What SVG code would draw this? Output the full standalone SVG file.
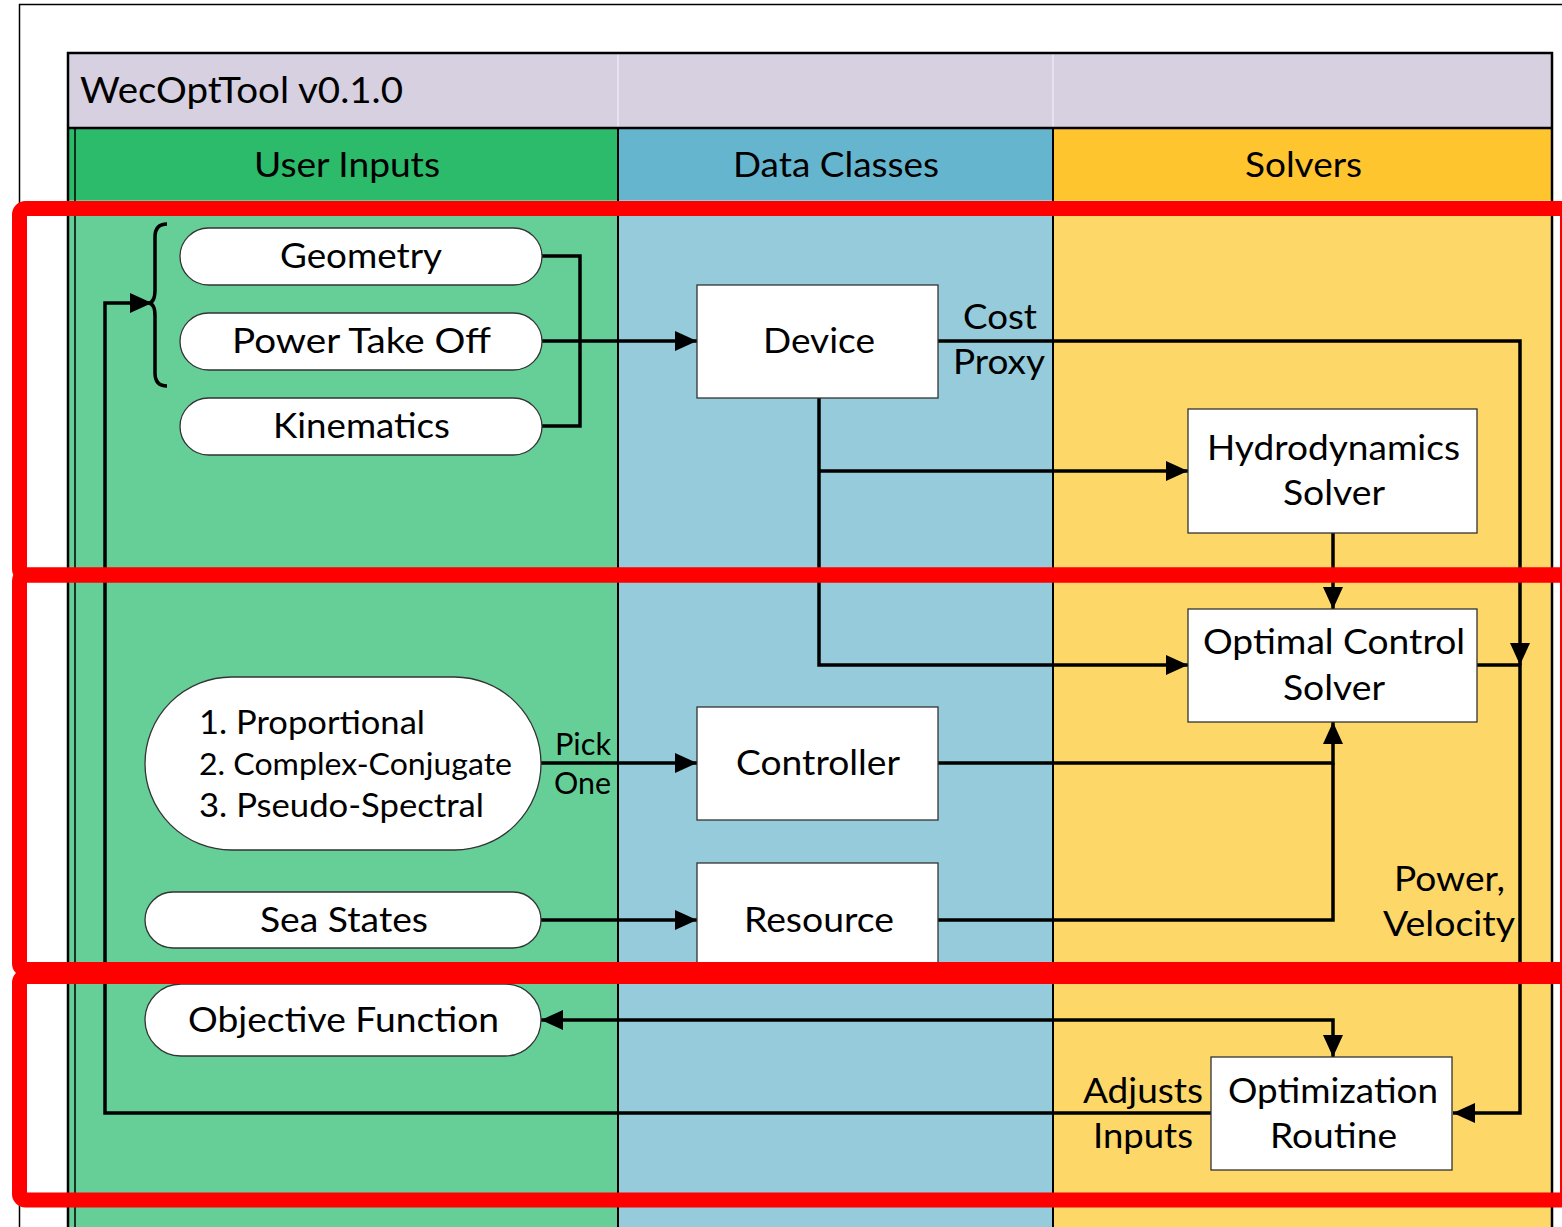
<svg xmlns="http://www.w3.org/2000/svg" width="1562" height="1227" viewBox="0 0 1562 1227">
<defs>
<style>
.t{font-family:Lato,"Open Sans","Liberation Sans",sans-serif;fill:#000;text-anchor:middle}
.pill{fill:#fff;stroke:#333;stroke-width:1.3}
.box{fill:#fff;stroke:#333;stroke-width:1.3}
.c{fill:none;stroke:#000;stroke-width:3.5}
.red{fill:none;stroke:#FF0000;stroke-width:15}
</style>
<marker id="ah" markerUnits="userSpaceOnUse" markerWidth="24" markerHeight="22" refX="22" refY="11" orient="auto-start-reverse" viewBox="0 0 24 22">
<path d="M0,1 L22,11 L0,21 z" fill="#000"/>
</marker>
</defs>
<rect x="0" y="0" width="1562" height="1227" fill="#fff"/>
<rect x="19.5" y="4.5" width="1600" height="1300" fill="#fff" stroke="#000" stroke-width="1.5"/>

<g id="lanes">
<rect x="68" y="53" width="1484" height="75" fill="#D6D0E1"/>
<line x1="618" y1="54" x2="618" y2="128" stroke="#ECE8F1" stroke-width="1.5"/>
<line x1="1053" y1="54" x2="1053" y2="128" stroke="#ECE8F1" stroke-width="1.5"/>
<rect x="68" y="128" width="550" height="72" fill="#2BBB6B"/>
<rect x="618" y="128" width="435" height="72" fill="#66B5CE"/>
<rect x="1053" y="128" width="499" height="72" fill="#FEC52F"/>
<rect x="68" y="200" width="550" height="1030" fill="#66CF97"/>
<rect x="618" y="200" width="435" height="1030" fill="#95CBDA"/>
<rect x="1053" y="200" width="499" height="1030" fill="#FDD869"/>
<line x1="68" y1="128" x2="1552" y2="128" stroke="#000" stroke-width="2.5"/>
<line x1="75" y1="128" x2="75" y2="1227" stroke="#000" stroke-width="1.5"/>
<line x1="618" y1="128" x2="618" y2="1227" stroke="#000" stroke-width="2"/>
<line x1="1053" y1="128" x2="1053" y2="1227" stroke="#000" stroke-width="2"/>
<rect x="68" y="53" width="1484" height="1200" fill="none" stroke="#000" stroke-width="2.5"/>
<text class="t" x="80" y="103" font-size="36" style="text-anchor:start" textLength="323" lengthAdjust="spacingAndGlyphs">WecOptTool v0.1.0</text>
<text class="t" x="347" y="177" font-size="34" textLength="186" lengthAdjust="spacingAndGlyphs">User Inputs</text>
<text class="t" x="836" y="177" font-size="34" textLength="206" lengthAdjust="spacingAndGlyphs">Data Classes</text>
<text class="t" x="1303.5" y="177" font-size="34" textLength="117" lengthAdjust="spacingAndGlyphs">Solvers</text>
</g>

<g id="connectors">
<path class="c" d="M542,256 H580 V426 H542"/>
<path class="c" d="M542,341 H697" marker-end="url(#ah)"/>
<path class="c" d="M819,398 V665 H1188" marker-end="url(#ah)"/>
<path class="c" d="M819,471 H1188" marker-end="url(#ah)"/>
<path class="c" d="M1333,533 V609" marker-end="url(#ah)"/>
<path class="c" d="M938,341 H1520 V665" marker-end="url(#ah)"/>
<path class="c" d="M1477,665 H1520 V1113 H1453" marker-end="url(#ah)"/>
<path class="c" d="M938,763 H1333 V722" marker-end="url(#ah)"/>
<path class="c" d="M938,920 H1333 V763"/>
<path class="c" d="M541,763 H697" marker-end="url(#ah)"/>
<path class="c" d="M541,920 H697" marker-end="url(#ah)"/>
<path class="c" d="M541,1020 H1333 V1057" marker-start="url(#ah)" marker-end="url(#ah)"/>
<path class="c" d="M1211,1113 H105 V303 H152" marker-end="url(#ah)"/>
<path class="c" d="M167,224 C159,224 155,228 155,237 V290 C155,298 153,303 148,303 C153,303 155,308 155,316 V373 C155,382 159,386 167,386"/>
<text class="t" x="1000" y="329" font-size="34" textLength="74" lengthAdjust="spacingAndGlyphs">Cost</text>
<text class="t" x="999" y="374" font-size="34" textLength="92" lengthAdjust="spacingAndGlyphs">Proxy</text>
<text class="t" x="583" y="755" font-size="31" textLength="56" lengthAdjust="spacingAndGlyphs">Pick</text>
<text class="t" x="582.5" y="794" font-size="31" textLength="57" lengthAdjust="spacingAndGlyphs">One</text>
<text class="t" x="1449.5" y="891" font-size="34" textLength="111" lengthAdjust="spacingAndGlyphs">Power,</text>
<text class="t" x="1449" y="936" font-size="34" textLength="132" lengthAdjust="spacingAndGlyphs">Velocity</text>
<text class="t" x="1143" y="1103" font-size="34" textLength="120" lengthAdjust="spacingAndGlyphs">Adjusts</text>
<text class="t" x="1143" y="1148" font-size="34" textLength="100" lengthAdjust="spacingAndGlyphs">Inputs</text>
</g>

<g id="geometry">
<rect class="pill" x="180" y="228" width="362" height="57" rx="28.5"/>
<text class="t" x="361" y="268" font-size="34" textLength="162" lengthAdjust="spacingAndGlyphs">Geometry</text>
</g>
<g id="pto">
<rect class="pill" x="180" y="313" width="362" height="57" rx="28.5"/>
<text class="t" x="361.5" y="353" font-size="34" textLength="259" lengthAdjust="spacingAndGlyphs">Power Take Off</text>
</g>
<g id="kinematics">
<rect class="pill" x="180" y="398" width="362" height="57" rx="28.5"/>
<text class="t" x="361.5" y="438" font-size="34" textLength="177" lengthAdjust="spacingAndGlyphs">Kinematics</text>
</g>
<g id="device">
<rect class="box" x="697" y="285" width="241" height="113"/>
<text class="t" x="819" y="353" font-size="34" textLength="112" lengthAdjust="spacingAndGlyphs">Device</text>
</g>
<g id="hydro">
<rect class="box" x="1188" y="409" width="289" height="124"/>
<text class="t" x="1333.5" y="460" font-size="34" textLength="253" lengthAdjust="spacingAndGlyphs">Hydrodynamics</text>
<text class="t" x="1334" y="505" font-size="34" textLength="102" lengthAdjust="spacingAndGlyphs">Solver</text>
</g>
<g id="ocs">
<rect class="box" x="1188" y="609" width="289" height="113"/>
<text class="t" x="1334" y="654" font-size="34" textLength="262" lengthAdjust="spacingAndGlyphs">Optimal Control</text>
<text class="t" x="1334" y="700" font-size="34" textLength="102" lengthAdjust="spacingAndGlyphs">Solver</text>
</g>
<g id="options">
<rect class="pill" x="145" y="677" width="396" height="173" rx="86.5"/>
<text class="t" x="199" y="734" font-size="33" style="text-anchor:start" textLength="226" lengthAdjust="spacingAndGlyphs">1. Proportional</text>
<text class="t" x="199" y="775" font-size="30" style="text-anchor:start" textLength="313" lengthAdjust="spacingAndGlyphs">2. Complex-Conjugate</text>
<text class="t" x="199" y="817" font-size="33" style="text-anchor:start" textLength="285" lengthAdjust="spacingAndGlyphs">3. Pseudo-Spectral</text>
</g>
<g id="controller">
<rect class="box" x="697" y="707" width="241" height="113"/>
<text class="t" x="818" y="775" font-size="34" textLength="164" lengthAdjust="spacingAndGlyphs">Controller</text>
</g>
<g id="seastates">
<rect class="pill" x="145" y="892" width="396" height="56" rx="28"/>
<text class="t" x="344" y="932" font-size="34" textLength="168" lengthAdjust="spacingAndGlyphs">Sea States</text>
</g>
<g id="resource">
<rect class="box" x="697" y="863" width="241" height="113"/>
<text class="t" x="819" y="932" font-size="34" textLength="150" lengthAdjust="spacingAndGlyphs">Resource</text>
</g>
<g id="objective">
<rect class="pill" x="145" y="984" width="396" height="72" rx="36"/>
<text class="t" x="343.5" y="1032" font-size="34" textLength="311" lengthAdjust="spacingAndGlyphs">Objective Function</text>
</g>
<g id="optroutine">
<rect class="box" x="1211" y="1057" width="241" height="113"/>
<text class="t" x="1333" y="1103" font-size="34" textLength="210" lengthAdjust="spacingAndGlyphs">Optimization</text>
<text class="t" x="1333.5" y="1148" font-size="34" textLength="127" lengthAdjust="spacingAndGlyphs">Routine</text>
</g>

<g id="highlights">
<rect class="red" x="19.5" y="208.5" width="1548" height="366.5" rx="6"/>
<rect class="red" x="19.5" y="575" width="1548" height="394.5" rx="6"/>
<rect class="red" x="19.5" y="976.5" width="1548" height="223.5" rx="6"/>
</g>
</svg>
